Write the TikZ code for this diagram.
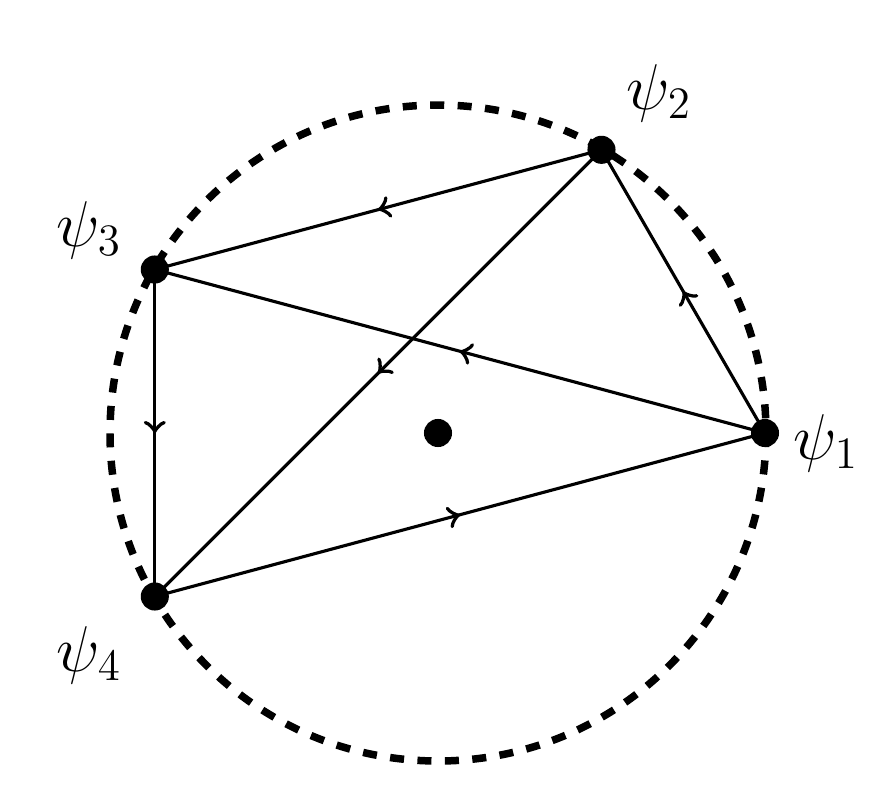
\documentclass[tikz,border=0pt]{standalone}
\usetikzlibrary{decorations.markings,calc}
\begin{document}
\begin{tikzpicture}[x=0.011261cm,y=-0.011261cm,
  edge/.style={line width=1pt,postaction={decorate},decoration={markings,mark=at position 0.5 with {\arrow[line width=1pt,scale=1.3]{>}}}},
  dotnode/.style={circle,fill=black,inner sep=0pt,minimum size=9pt},
  lbl/.style={font=\huge,inner sep=0pt}]
\useasboundingbox (0,0) rectangle (888,810);
\coordinate (O) at (438,433);
\draw[line width=2.4pt,dash pattern=on 4.5pt off 4.3pt] (O) circle[radius=328];
\node[dotnode] (c) at (O) {};
\node[dotnode] (p1) at ($(O)+(0:327)$) {};
\node[dotnode] (p2) at ($(O)+(-60:327)$) {};
\node[dotnode] (p3) at ($(O)+(-150:327)$) {};
\node[dotnode] (p4) at ($(O)+(150:327)$) {};
\node[lbl] (l1) at (826,443) {$\psi_1$};
\node[lbl] (l2) at (659,93) {$\psi_2$};
\node[lbl] (l3) at (89,230) {$\psi_3$};
\node[lbl] (l4) at (89,655) {$\psi_4$};
\draw[edge] (p1.center) -- (p2.center);
\draw[edge] (p2.center) -- (p3.center);
\draw[edge] (p3.center) -- (p4.center);
\draw[edge] (p4.center) -- (p1.center);
\draw[edge] (p1.center) -- (p3.center);
\draw[edge] (p2.center) -- (p4.center);
\end{tikzpicture}
\end{document}
